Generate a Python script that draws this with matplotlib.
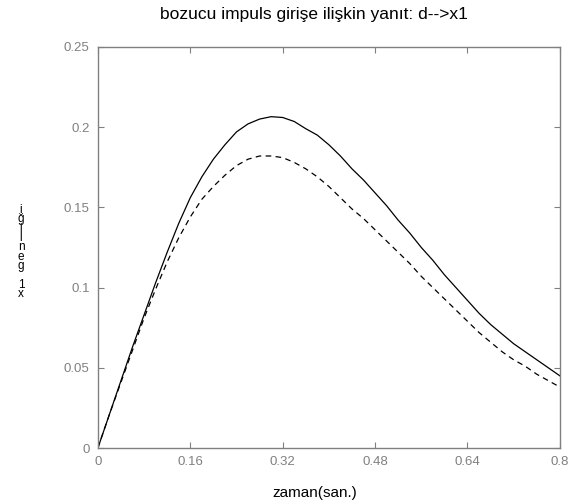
import matplotlib
matplotlib.use('Agg')
from matplotlib import pyplot as plt
import numpy as np

# time samples (s) and the two responses
t = [0.00, 0.02, 0.04, 0.06, 0.08, 0.10, 0.12, 0.14, 0.16, 0.18, 0.20,
     0.22, 0.24, 0.26, 0.28, 0.30, 0.32, 0.34, 0.36, 0.38, 0.40,
     0.42, 0.44, 0.46, 0.48, 0.50, 0.52, 0.54, 0.56, 0.58, 0.60,
     0.62, 0.64, 0.66, 0.68, 0.70, 0.72, 0.74, 0.76, 0.78, 0.80]
x1_solid = [0, 0.021, 0.042, 0.063, 0.083, 0.103, 0.122, 0.140, 0.156, 0.169, 0.180,
            0.189, 0.197, 0.202, 0.205, 0.2065, 0.206, 0.2035, 0.199, 0.195, 0.189,
            0.182, 0.174, 0.167, 0.159, 0.151, 0.142, 0.134, 0.125, 0.117, 0.108,
            0.100, 0.092, 0.084, 0.077, 0.071, 0.065, 0.060, 0.055, 0.050, 0.045]
x1_dashed = [0, 0.021, 0.041, 0.061, 0.081, 0.099, 0.116, 0.131, 0.144, 0.155, 0.163,
             0.170, 0.176, 0.180, 0.182, 0.182, 0.181, 0.178, 0.174, 0.169, 0.163,
             0.156, 0.149, 0.143, 0.136, 0.129, 0.122, 0.115, 0.107, 0.100, 0.093,
             0.086, 0.079, 0.072, 0.066, 0.060, 0.055, 0.051, 0.046, 0.042, 0.038]

xticks = [0, 0.16, 0.32, 0.48, 0.64, 0.8]
xtick_labels = ['0', '0.16', '0.32', '0.48', '0.64', '0.8']
yticks = [0, 0.05, 0.1, 0.15, 0.2, 0.25]
ytick_labels = ['0', '0.05', '0.1', '0.15', '0.2', '0.25']

plt.rcParams['font.family'] = ['Liberation Sans', 'DejaVu Sans']
gray = '#808080'

fig = plt.figure(figsize=(5.69, 5.04), dpi=100, facecolor='white')
ax = fig.add_axes([0.172, 0.111, 0.812, 0.796])

ax.plot(t, x1_solid, color='black', linewidth=0.9)
ax.plot(t, x1_dashed, color='black', linewidth=0.9, dashes=(4.5, 3.5))

ax.set_xlim(0, 0.8)
ax.set_ylim(0, 0.25)
ax.set_xticks(xticks, xtick_labels)
ax.set_yticks(yticks, ytick_labels)
ax.tick_params(direction='in', length=4, width=0.8, colors=gray,
               labelsize=9.5, top=True, right=True, pad=6)
for s in ax.spines.values():
    s.set_color(gray)
    s.set_linewidth(1.0)

# title and xlabel sit a bit left of the axes centre in the original
ax.set_title('bozucu impuls girişe ilişkin yanıt: d-->x1', fontsize=12.5, pad=20, x=0.468)
ax.set_xlabel('zaman(san.)', fontsize=11)
ax.xaxis.set_label_coords(0.47, -0.095)

# stacked, unrotated y label as in the original
fig.text(0.037, 0.5, 'i\nğ\ni\nl\nn\ne\ng\n\n1\nx', fontsize=8.5,
         ha='center', va='center', linespacing=0.7)

fig.savefig('out.png', dpi=100)
